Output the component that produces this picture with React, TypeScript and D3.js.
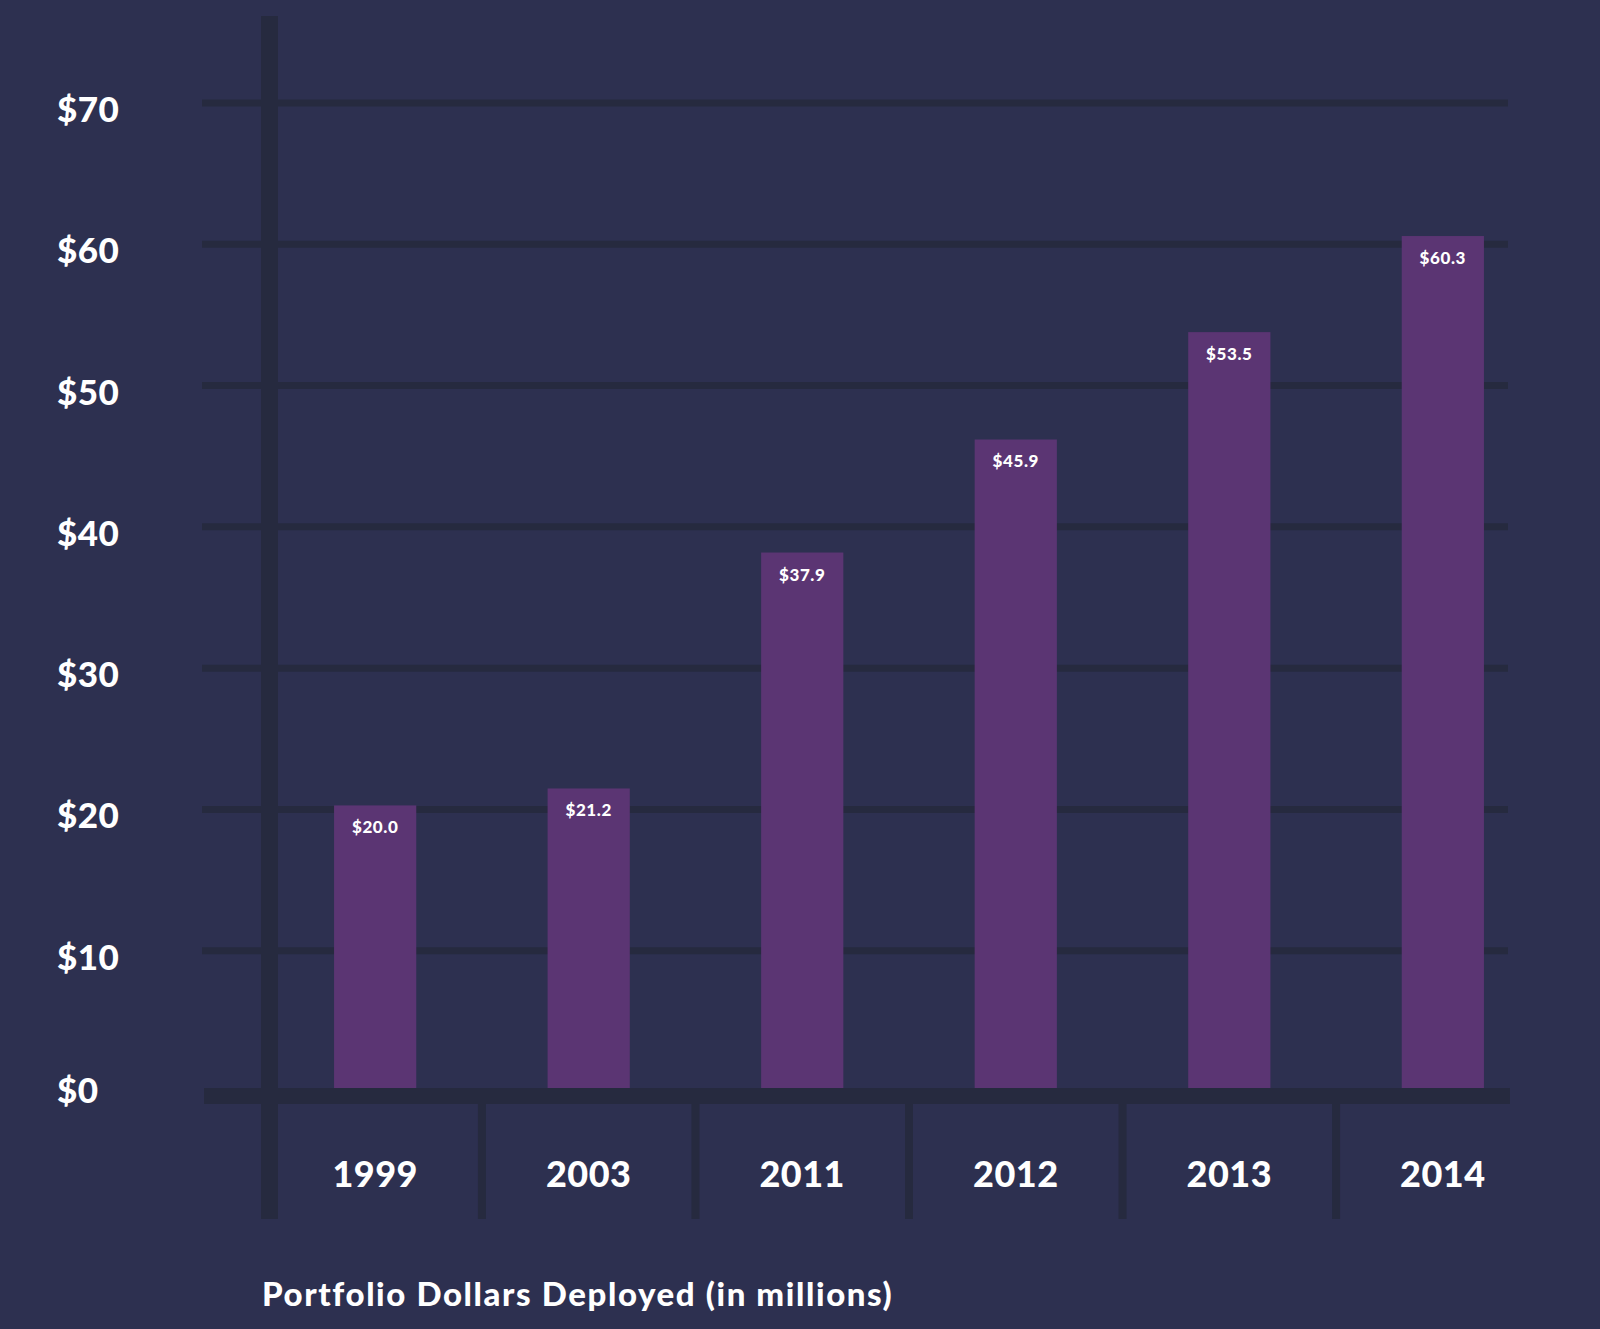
import * as d3 from 'd3';

const WIDTH = 1600;
const HEIGHT = 1329;

const years = ['1999', '2003', '2011', '2012', '2013', '2014'];
const values = [20.0, 21.2, 37.9, 45.9, 53.5, 60.3];
const yTicks = [0, 10, 20, 30, 40, 50, 60, 70];

const BG = '#2d3050';
const LINE = '#262a3f';
const BAR = '#5b3573';
const FONT = 'Lato, "Open Sans", sans-serif';

export default function App() {
  const x = d3.scaleBand<string>().domain(years).range([270, 1548]).paddingInner(0.615).paddingOuter(0.3);
  const step = x.step();
  const y = d3.scaleLinear().domain([0, 70]).range([1088, 99]);

  return (
    <div style={{ position: 'absolute', left: 0, top: 0 }}>
      <svg width={WIDTH} height={HEIGHT} style={{ display: 'block', background: BG }}>
        <rect width={WIDTH} height={HEIGHT} fill={BG} />
        {yTicks.slice(1).map((t) => (
          <line key={t} x1={202} x2={1508} y1={y(t) + 4} y2={y(t) + 4} stroke={LINE} strokeWidth={7} />
        ))}
        {yTicks.map((t) => (
          <text key={'l' + t} x={57} y={y(t) + (t === 0 ? 15 : 23)} fill="#fff" fontFamily={FONT} fontWeight={900} fontSize={35} letterSpacing={0.5}>
            ${t}
          </text>
        ))}
        <rect x={261} y={16} width={17} height={1203} fill={LINE} />
        {years.map((yr, i) => {
          const bx = x(yr)!;
          return (
            <g key={yr}>
              <rect x={bx} y={y(values[i])} width={x.bandwidth()} height={y(0) - y(values[i])} fill={BAR} />
              <text x={bx + x.bandwidth() / 2} y={y(values[i]) + 28} textAnchor="middle" fill="#fff" fontFamily={FONT} fontWeight={900} fontSize={17} letterSpacing={0.6}>
                ${values[i].toFixed(1)}
              </text>
              <text x={bx + x.bandwidth() / 2} y={1187} textAnchor="middle" fill="#fff" fontFamily={FONT} fontWeight={900} fontSize={36} letterSpacing={0.5}>
                {yr}
              </text>
              {i > 0 && (
                <rect x={bx - (step - x.bandwidth()) / 2 - 4} y={1100} width={8} height={119} fill={LINE} />
              )}
            </g>
          );
        })}
        <rect x={204} y={1088} width={1306} height={16} fill={LINE} />
        <text x={262} y={1306} fill="#fff" fontFamily={FONT} fontWeight={900} fontSize={33} letterSpacing={1.6}>
          Portfolio Dollars Deployed (in millions)
        </text>
      </svg>
    </div>
  );
}
